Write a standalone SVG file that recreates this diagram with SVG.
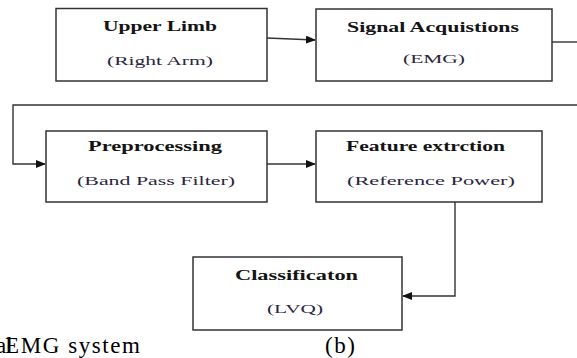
<svg xmlns="http://www.w3.org/2000/svg" width="577" height="358" viewBox="0 0 577 358">
<style>
.box{fill:#fff;stroke:#333;stroke-width:1.5}
.conn{fill:none;stroke:#333;stroke-width:1.4}
.t{font-family:"Liberation Serif",serif;font-weight:bold;font-size:14px;fill:#141414;text-anchor:start}
.s{font-family:"Liberation Serif",serif;font-size:13px;fill:#2a2540;text-anchor:start}
.cap{font-family:"Liberation Serif",serif;font-size:23px;fill:#000}
</style>
<defs>
<marker id="arr" markerWidth="10" markerHeight="8" refX="9" refY="4" orient="auto" markerUnits="userSpaceOnUse">
<path d="M0,0 L10,4 L0,8 z" fill="#111"/>
</marker>
</defs>
<rect width="577" height="358" fill="#fff"/>
<g id="connectors">
<path class="conn" d="M267,38 L315,40" marker-end="url(#arr)"/>
<path class="conn" d="M552,42 L577,42"/>
<path class="conn" d="M577,105 L13,105 L13,164 L45,164" marker-end="url(#arr)"/>
<path class="conn" d="M267,164 L315,164" marker-end="url(#arr)"/>
<path class="conn" d="M455,202 L455,296 L403,296" marker-end="url(#arr)"/>
</g>
<g id="upper-limb">
<rect class="box" x="56" y="8.5" width="211" height="72.5"/>
<text class="t" x="103" y="31" textLength="114" lengthAdjust="spacingAndGlyphs">Upper Limb</text>
<text class="s" x="107" y="65" textLength="106" lengthAdjust="spacingAndGlyphs">(Right Arm)</text>
</g>
<g id="signal-acquisitions">
<rect class="box" x="316" y="9" width="236" height="72"/>
<text class="t" x="347" y="32" textLength="172" lengthAdjust="spacingAndGlyphs">Signal Acquistions</text>
<text class="s" x="403" y="63" textLength="62" lengthAdjust="spacingAndGlyphs">(EMG)</text>
</g>
<g id="preprocessing">
<rect class="box" x="46" y="131" width="221" height="71"/>
<text class="t" x="88" y="151" textLength="134" lengthAdjust="spacingAndGlyphs">Preprocessing</text>
<text class="s" x="77" y="185" textLength="158" lengthAdjust="spacingAndGlyphs">(Band Pass Filter)</text>
</g>
<g id="feature-extraction">
<rect class="box" x="316" y="131" width="226" height="71"/>
<text class="t" x="346" y="151" textLength="159" lengthAdjust="spacingAndGlyphs">Feature extrction</text>
<text class="s" x="347" y="185" textLength="168" lengthAdjust="spacingAndGlyphs">(Reference Power)</text>
</g>
<g id="classification">
<rect class="box" x="193" y="257" width="209" height="73"/>
<text class="t" x="235" y="280" textLength="123" lengthAdjust="spacingAndGlyphs">Classificaton</text>
<text class="s" x="267" y="313" textLength="56" lengthAdjust="spacingAndGlyphs">(LVQ)</text>
</g>
<g id="captions">
<text class="cap" x="-4" y="353">al</text>
<text class="cap" x="5" y="353" textLength="135">EMG system</text>
<text class="cap" x="325" y="353" textLength="30">(b)</text>
</g>
</svg>
